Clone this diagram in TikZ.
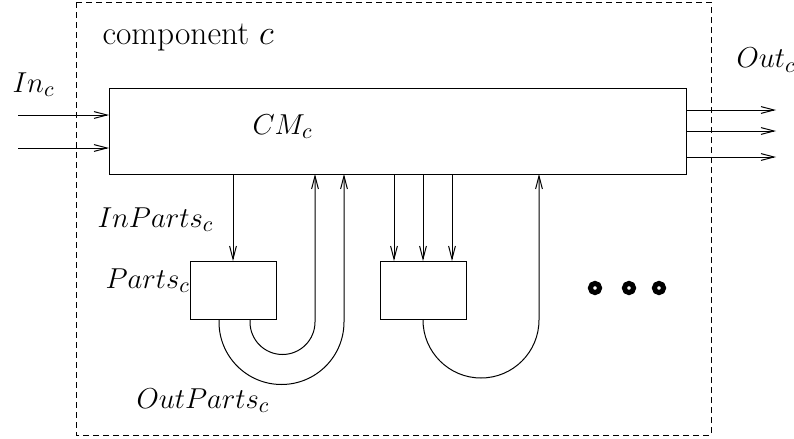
\documentclass[tikz,border=0pt]{standalone}
\usetikzlibrary{arrows.meta,calc}
\begin{document}
\begin{tikzpicture}[x=0.5pt,y=-0.5pt,
  line width=0.5pt,
  arr/.style={-{Straight Barb[length=6.5pt,width=3.4pt,line width=0.5pt]}},
  boxn/.style={draw,rectangle,inner sep=0pt,outer sep=0pt},
  lbl/.style={anchor=base west,inner sep=0pt,font=\fontsize{15}{18}\selectfont},
  dot/.style={circle,draw,line width=2.5pt,minimum size=4.6pt,inner sep=0pt}]
\useasboundingbox (0,0) rectangle (794,439);
% outer dashed component box
\draw[dash pattern=on 3pt off 2pt] (76,2) rectangle (711,435);
% main boxes
\node[boxn,minimum width=288.5pt,minimum height=43pt] (CM) at (397.5,131) {};
\node[boxn,minimum width=43pt,minimum height=29pt] (P1) at (233,290) {};
\node[boxn,minimum width=43pt,minimum height=29pt] (P2) at (423,290) {};
% labels
\node[lbl,font=\fontsize{16.7}{20}\selectfont] (lcomp) at (102,45) {component $c$};
\node[lbl] (lin) at (12,92) {$In_c$};
\node[lbl] (lcm) at (252,134) {$CM_c$};
\node[lbl] (lout) at (736,68) {$Out_c$};
\node[lbl] (linp) at (97,227) {$InParts_c$};
\node[lbl] (lparts) at (105,288) {$Parts_c$};
\node[lbl] (loutp) at (136,408) {$OutParts_c$};
% inputs
\coordinate (in1) at (18,115);
\coordinate (in2) at (18,148);
\draw[arr] (in1) -- (in1 -| CM.west);
\draw[arr] (in2) -- (in2 -| CM.west);
% outputs
\coordinate (o1) at (776,110);
\coordinate (o2) at (776,131);
\coordinate (o3) at (776,157);
\draw[arr] (o1 -| CM.east) -- (o1);
\draw[arr] (o2 -| CM.east) -- (o2);
\draw[arr] (o3 -| CM.east) -- (o3);
% down arrows
\draw[arr] (CM.south -| P1.north) -- (P1.north);
\draw[arr] ([xshift=-14.5pt]CM.south -| P2.north) -- ([xshift=-14.5pt]P2.north);
\draw[arr] (CM.south -| P2.north) -- (P2.north);
\draw[arr] ([xshift=14.5pt]CM.south -| P2.north) -- ([xshift=14.5pt]P2.north);
% U-shaped returns
\draw[arr] ([xshift=8.5pt]P1.south) -- ++(0,3) arc[start angle=180,end angle=360,radius=16.25pt] coordinate (u1) -- (u1 |- CM.south);
\draw[arr] ([xshift=-7pt]P1.south) -- ++(0,3) arc[start angle=180,end angle=360,radius=31.25pt] coordinate (u2) -- (u2 |- CM.south);
\draw[arr] (P2.south) -- ++(0,1) arc[start angle=180,end angle=360,radius=58pt/2] coordinate (u3) -- (u3 |- CM.south);
% dots
\node[dot] (d1) at (595,288) {};
\node[dot] (d2) at (629,288) {};
\node[dot] (d3) at (659,288) {};
\end{tikzpicture}
\end{document}
